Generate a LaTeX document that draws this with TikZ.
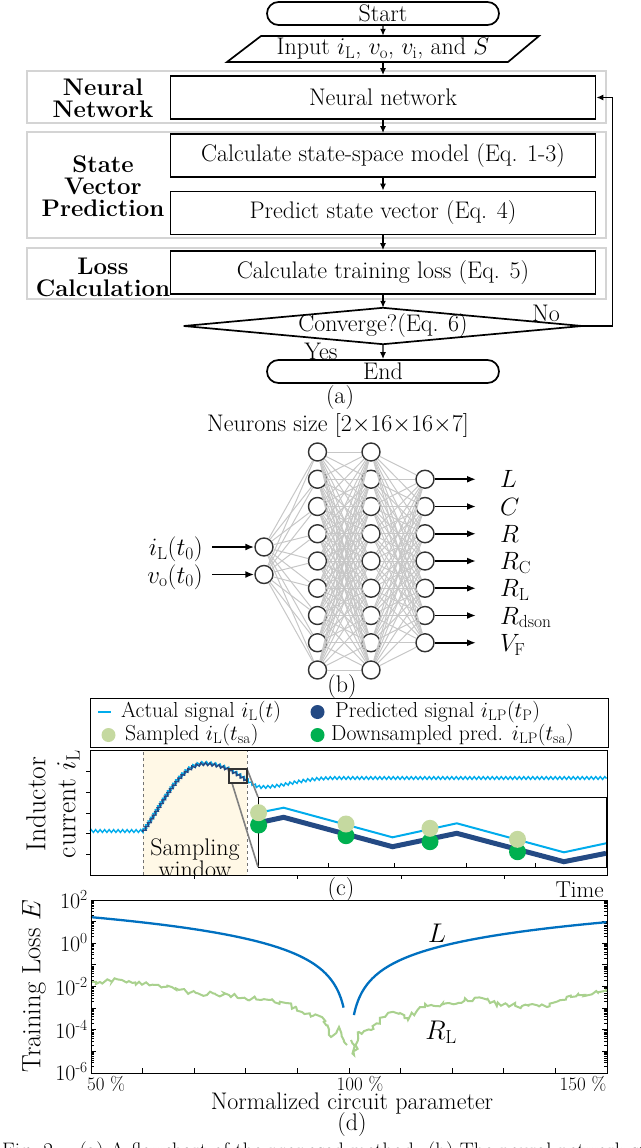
\RequirePackage{fix-cm}
\documentclass[tikz,border=0pt]{standalone}
\usepackage{fontspec}
\usetikzlibrary{arrows.meta,shapes.misc,decorations.pathmorphing,calc}
\definecolor{actual}{RGB}{0,172,236}
\definecolor{pred}{RGB}{36,74,132}
\definecolor{sampled}{RGB}{197,217,160}
\definecolor{down}{RGB}{0,176,80}
\definecolor{winfill}{RGB}{255,248,230}
\definecolor{Lcol}{RGB}{0,112,192}
\definecolor{RLcol}{RGB}{169,209,142}
\tikzset{
 fc/.style={font=\fontsize{24}{26}\selectfont},
 box/.style={draw, line width=1.7, minimum width=425pt, minimum height=43pt, inner sep=0pt, fc},
 term/.style={draw, rounded rectangle, line width=1.7, minimum width=232pt, minimum height=23pt, inner sep=0pt, fc},
 arr/.style={-{Latex[length=7pt,width=6pt]}, line width=1.4},
 grp/.style={draw=black!17, line width=2.5},
 lab/.style={font=\fontsize{24}{22}\selectfont\bfseries, align=center},
 neuron/.style={circle, draw=black!80, line width=1.4, fill=white, minimum size=18pt, inner sep=0pt},
 nnedge/.style={draw=black!22, line width=1},
 narr/.style={-{Latex[length=9pt,width=7pt]}, line width=1.8},
 mf/.style={font=\fontsize{25}{27}\selectfont, inner sep=0pt},
 lg/.style={font=\fontsize{21.7}{24}\selectfont, anchor=west, inner sep=0pt},
 zz/.style={decorate, decoration={zigzag, segment length=4.5pt, amplitude=1.4pt}},
}
\begin{document}
\begin{tikzpicture}[x=1pt,y=-1pt]
\useasboundingbox (0,0) rectangle (640,1148);
\pgfmathsetseed{5}
% ---------------- (a) flowchart ----------------
\draw[grp] (27,71) rectangle (606,123);
\draw[grp] (27,132) rectangle (606,238);
\draw[grp] (27,248) rectangle (606,299);
\node[term] (start) at (383,13.5) {Start};
\node[fc, minimum height=26pt, inner sep=0pt] (input) at (383,49) {Input $i_{\mathrm{L}}$, $v_{\mathrm{o}}$, $v_{\mathrm{i}}$, and $S$};
\draw[line width=1.7] (227,62) -- (261,36) -- (539,36) -- (508,62) -- cycle;
\node[box] (nn) at (383,97.5) {Neural network};
\node[box] (ss) at (383,155.5) {Calculate state-space model (Eq. 1-3)};
\node[box] (pv) at (383,213) {Predict state vector (Eq. 4)};
\node[box] (tl) at (383,272.5) {Calculate training loss (Eq. 5)};
\node[fc, minimum width=398pt, minimum height=36pt, inner sep=0pt] (conv) at (383,326) {Converge?(Eq. 6)};
\draw[line width=1.7] (conv.west) -- (conv.north) -- (conv.east) -- (conv.south) -- cycle;
\node[term] (end) at (383,371.5) {End};
\node[lab] (l1) at (103,98) {Neural\\Network};
\node[lab] (l2) at (103,186) {State\\Vector\\Prediction};
\node[lab] (l3) at (103,277) {Loss\\Calculation};
\draw[arr] (start) -- (input);
\draw[arr] (input) -- (nn);
\draw[arr] (nn) -- (ss);
\draw[arr] (ss) -- (pv);
\draw[arr] (pv) -- (tl);
\draw[arr] (tl) -- (conv.north);
\draw[arr] (conv.south) -- (end);
\draw[arr] (conv.east) -- ++(30,0) |- (nn.east);
\node[fc] (no) at (546,313) {No};
\node[fc] (yes) at (321,351) {Yes};
\node[fc] (capa) at (340,398) {(a)};
% ---------------- (b) neural network ----------------
\node[fc] (nsz) at (338,425) {Neurons size [$2{\times}16{\times}16{\times}7$]};
\node[neuron] (in1) at (264,547) {};
\node[neuron] (in2) at (264,574.5) {};
\foreach \i in {1,...,9} {
  \pgfmathsetmacro\yy{452+27.25*(\i-1)}
  \node[neuron] (a\i) at (317.5,\yy) {};
  \node[neuron] (b\i) at (371,\yy) {};
}
\foreach \i in {1,...,7} {
  \pgfmathsetmacro\yy{479.25+27.25*(\i-1)}
  \node[neuron] (o\i) at (425,\yy) {};
}
\foreach \i in {1,2} \foreach \j in {1,...,9} \draw[nnedge] (in\i) -- (a\j);
\foreach \i in {1,...,9} \foreach \j in {1,...,9} \draw[nnedge] (a\i) -- (b\j);
\foreach \i in {1,...,9} \foreach \j in {1,...,7} \draw[nnedge] (b\i) -- (o\j);
\node[mf, anchor=base east] (x1) at (203,555.5) {$i_{\mathrm{L}}(t_0)$};
\node[mf, anchor=base east] (x2) at (203,583) {$v_{\mathrm{o}}(t_0)$};
\draw[narr, shorten <=9pt] (x1.east |- in1) -- (in1);
\draw[narr, shorten <=9pt] (x2.east |- in2) -- (in2);
\node[mf, anchor=base west] (y1) at (500,487.75) {$L$};
\node[mf, anchor=base west] (y2) at (500,515) {$C$};
\node[mf, anchor=base west] (y3) at (500,542.25) {$R$};
\node[mf, anchor=base west] (y4) at (500,569.5) {$R_{\mathrm{C}}$};
\node[mf, anchor=base west] (y5) at (500,596.75) {$R_{\mathrm{L}}$};
\node[mf, anchor=base west] (y6) at (500,624) {$R_{\mathrm{dson}}$};
\node[mf, anchor=base west] (y7) at (500,651.25) {$V_{\mathrm{F}}$};
\foreach \i in {1,...,7} \draw[narr, shorten >=24pt] (o\i) -- (o\i -| y\i.west);
\node[fc] (capb) at (342,687) {(b)};
% ---------------- (c) signals ----------------
\draw[line width=1] (90,698) rectangle (608,747);
\draw[actual, line width=2.5] (98,712) -- (111,712);
\node[lg] (t1) at (121,712) {Actual signal $i_{\mathrm{L}}(t)$};
\fill[pred] (317.5,712) circle (7);
\node[lg] (t2) at (335,712) {Predicted signal $i_{\mathrm{LP}}(t_{\mathrm{P}})$};
\fill[sampled] (108.5,735) circle (7);
\node[lg] (t3) at (125,735) {Sampled $i_{\mathrm{L}}(t_{\mathrm{sa}})$};
\fill[down] (317.5,735) circle (7);
\node[lg] (t4) at (331,735) {Downsampled pred. $i_{\mathrm{LP}}(t_{\mathrm{sa}})$};
\fill[winfill] (143,750) rectangle (247,875);
\draw[dashed, black!55, line width=0.8] (143,875) -- (143,750) -- (247,750) -- (247,875);
\begin{scope}
\clip (90,750) rectangle (607,875);
\node[font=\fontsize{24}{20}\selectfont, align=center] (sw) at (195,858) {Sampling\\window};
\end{scope}
\draw[actual, line width=1.4, zz] (90,831) -- (143,831) .. controls (160,808) and (180,763) .. (204,763) .. controls (222,763) and (236,772) .. (247,780) .. controls (252,784) and (256,787) .. (262,787) .. controls (285,787) and (300,778) .. (337,778) -- (607,778);
\draw[pred, line width=1.5, zz] (143,832) .. controls (160,809) and (180,764) .. (204,764) .. controls (222,764) and (236,773) .. (247,781);
\draw[fill=white, line width=0.9] (258,797) rectangle (606,867);
\foreach \xx in {328,394,466,535} \draw[line width=0.8] (\xx,867) -- (\xx,863);
\begin{scope}
\clip (258,797) rectangle (606,867);
\draw[actual, line width=2] (258.6,812.7) -- (283.6,807.7) -- (392.5,837.3) -- (456.8,823.3) -- (563.9,852.3) -- (606,843.3);
\draw[pred, line width=5] (258.6,822.7) -- (283.6,817.3) -- (392.5,846.7) -- (456.8,833.3) -- (563.9,861.7) -- (606,853.3);
\end{scope}
\foreach \xx/\ya/\yb in {258.6/825/812.7, 346/835.7/824, 430/841.7/828.3, 517.5/851.7/839.3} {
  \fill[down] (\xx,\ya) circle (8.5);
  \fill[sampled] (\xx,\yb) circle (8.5);
}
\draw[black!50, line width=1.6] (247,769) -- (258,797);
\draw[black!50, line width=1.6] (232,783) -- (258,867);
\draw[black!80, line width=1.6] (229,769) rectangle (247,783);
\draw[line width=1] (90,750) rectangle (607,875);
\foreach \yy in {771,792,813,833,854} \draw[line width=0.8] (90,\yy) -- (86,\yy);
\foreach \xx in {194,297,401,504} \draw[line width=0.8] (\xx,875) -- (\xx,879);
\node[font=\fontsize{27.5}{30}\selectfont, rotate=90, align=center] (ylc) at (53,804) {Inductor\\current $i_{\mathrm{L}}$};
\node[fc] (capc) at (341,890) {(c)};
\node[font=\fontsize{23}{25}\selectfont, anchor=east, inner sep=0pt] (time) at (604,890) {Time};
% ---------------- (d) training loss ----------------
\foreach \k in {-6,...,1} {
  \foreach \m in {2,...,9} {
    \pgfmathsetmacro\yy{900+21.625*(2-\k)-21.625*ln(\m)/ln(10)}
    \draw[line width=0.6] (91,\yy) -- (94,\yy);
    \draw[line width=0.6] (607,\yy) -- (604,\yy);
  }
}
\foreach \k in {-6,...,2} {
  \pgfmathsetmacro\yy{900+21.625*(2-\k)}
  \draw[line width=0.8] (91,\yy) -- (96,\yy);
  \draw[line width=0.8] (607,\yy) -- (602,\yy);
}
\foreach \i in {1,...,9} \draw[line width=0.8] ({91+51.6*\i},1073) -- ({91+51.6*\i},1068);
\draw[Lcol, line width=2.3] plot[domain=-0.301:-1.976, samples=160] ({91+516*(0.5-exp(\x*2.302585))}, {943.25-21.625*(1.96+2.5*\x)});
\draw[Lcol, line width=2.3] plot[domain=-2.02:-0.301, samples=160] ({91+516*(0.5+exp(\x*2.302585))}, {943.25-21.625*(1.73+2.5*\x)});
\draw[RLcol, line width=2, decorate, decoration={random steps, segment length=3pt, amplitude=2.4pt}]
 (92,982) -- (122,980) -- (163,987) -- (196,993) -- (229,995) -- (261,1000) -- (286,1003) -- (302,1012) -- (322,1017) -- (331,1037) -- (339,1027) -- (345,1043) -- (347,1045);
\draw[RLcol, line width=2, decorate, decoration={random steps, segment length=3pt, amplitude=2.4pt}]
 (351,1040) -- (354,1055) -- (359,1032) -- (371,1030) -- (384,1017) -- (392,1012) -- (400,1013) -- (408,1020) -- (420,1007) -- (449,1003) -- (482,998) -- (490,1003) -- (522,1006) -- (547,1007) -- (571,997) -- (606,989);
\draw[line width=1] (91,900) rectangle (607,1073);
\node[font=\fontsize{22}{24}\selectfont, anchor=east, inner sep=0pt] (e2) at (88,900) {10\textsuperscript{2}};
\node[font=\fontsize{22}{24}\selectfont, anchor=east, inner sep=0pt] (e0) at (88,943) {10\textsuperscript{0}};
\node[font=\fontsize{22}{24}\selectfont, anchor=east, inner sep=0pt] (em2) at (88,986.5) {10\textsuperscript{-2}};
\node[font=\fontsize{22}{24}\selectfont, anchor=east, inner sep=0pt] (em4) at (88,1029.5) {10\textsuperscript{-4}};
\node[font=\fontsize{22}{24}\selectfont, anchor=east, inner sep=0pt] (em6) at (88,1072) {10\textsuperscript{-6}};
\node[font=\fontsize{19}{21}\selectfont, inner sep=0pt] (p50) at (106,1084) {50 \%};
\node[font=\fontsize{19}{21}\selectfont, inner sep=0pt] (p100) at (360,1084) {100 \%};
\node[font=\fontsize{19}{21}\selectfont, inner sep=0pt] (p150) at (583,1084) {150 \%};
\node[fc, inner sep=0pt] (xld) at (352,1103) {Normalized circuit parameter};
\node[font=\fontsize{26.5}{28}\selectfont, rotate=90] (yld) at (34,986) {Training Loss $E$};
\node[font=\fontsize{27}{29}\selectfont] (lL) at (437,933) {$L$};
\node[font=\fontsize{27}{29}\selectfont] (lRL) at (441,1032) {$R_{\mathrm{L}}$};
\node[fc] (capd) at (352,1124) {(d)};
\node[font=\fontsize{21}{23}\selectfont, anchor=north west, inner sep=0pt] (cap) at (2,1142) {Fig. 2.\quad (a) A flowchart of the proposed method. (b) The neural network structure};
\end{tikzpicture}
\end{document}
